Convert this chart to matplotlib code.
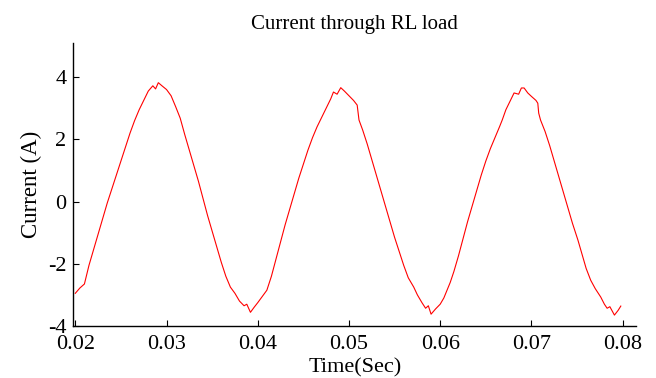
import matplotlib
matplotlib.use("Agg")
import matplotlib.pyplot as plt

# values (time in s, current in A)
time_s = [
    0.0200, 0.0205, 0.0210, 0.0215, 0.0220, 0.0225, 0.0230, 0.0235, 0.0240, 0.0245,
    0.0250, 0.0255, 0.0260, 0.0265, 0.0270, 0.0275, 0.0280, 0.0285, 0.0288, 0.0291,
    0.0295, 0.0300, 0.0305, 0.0310, 0.0315, 0.0320, 0.0325, 0.0330, 0.0335, 0.0340,
    0.0345, 0.0350, 0.0355, 0.0360, 0.0365, 0.0370, 0.0375, 0.0380, 0.0385, 0.0388,
    0.0392, 0.0396, 0.0400, 0.0405, 0.0410,
    0.0415, 0.0420, 0.0425, 0.0430, 0.0435, 0.0440, 0.0445, 0.0450, 0.0455, 0.0460,
    0.0465, 0.0470, 0.0475, 0.0480, 0.0483, 0.0487, 0.0491, 0.0495, 0.0500, 0.0505,
    0.0509, 0.0511, 0.0515, 0.0520, 0.0525, 0.0530, 0.0535, 0.0540, 0.0545, 0.0550,
    0.0555, 0.0560, 0.0565, 0.0571, 0.0575, 0.0580, 0.0584, 0.0587, 0.0590, 0.0595,
    0.0600, 0.0604, 0.0611,
    0.0615, 0.0620, 0.0625, 0.0630, 0.0635, 0.0640, 0.0645, 0.0650, 0.0655, 0.0660,
    0.0665, 0.0668, 0.0672, 0.0677, 0.0681, 0.0686, 0.0689, 0.0692, 0.0696, 0.0700,
    0.0705, 0.0707, 0.0708, 0.0710, 0.0715, 0.0720, 0.0725, 0.0730, 0.0735, 0.0740,
    0.0745, 0.0751, 0.0755, 0.0760, 0.0765, 0.0770, 0.0776, 0.0780, 0.0783, 0.0786,
    0.0791, 0.0795, 0.0798,
]
current_a = [
    -2.95, -2.78, -2.65, -2.05, -1.55, -1.05, -0.55, -0.05, 0.40, 0.85,
    1.30, 1.75, 2.20, 2.60, 2.95, 3.25, 3.55, 3.72, 3.62, 3.82,
    3.72, 3.60, 3.40, 3.05, 2.68, 2.15, 1.65, 1.15, 0.65, 0.10,
    -0.45, -0.95, -1.45, -1.95, -2.40, -2.75, -2.95, -3.20, -3.35, -3.30,
    -3.56, -3.40, -3.25, -3.05, -2.85,
    -2.40, -1.85, -1.30, -0.75, -0.25, 0.25, 0.75, 1.20, 1.65, 2.05,
    2.40, 2.70, 3.00, 3.30, 3.52, 3.45, 3.66, 3.55, 3.40, 3.25,
    3.10, 2.62, 2.30, 1.85, 1.35, 0.85, 0.35, -0.15, -0.65, -1.15,
    -1.60, -2.05, -2.45, -2.75, -3.00, -3.25, -3.43, -3.35, -3.62, -3.45,
    -3.30, -3.10, -2.60,
    -2.25, -1.75, -1.20, -0.65, -0.15, 0.35, 0.85, 1.30, 1.70, 2.05,
    2.40, 2.62, 2.95, 3.25, 3.49, 3.45, 3.65, 3.65, 3.49, 3.38,
    3.25, 3.16, 2.84, 2.62, 2.25, 1.80, 1.30, 0.80, 0.30, -0.20,
    -0.70, -1.24, -1.65, -2.15, -2.53, -2.80, -3.07, -3.30, -3.43, -3.38,
    -3.65, -3.50, -3.36,
]
x_ticks = [0.02, 0.03, 0.04, 0.05, 0.06, 0.07, 0.08]
y_ticks = [-4, -2, 0, 2, 4]

plt.rcParams['font.family'] = ['Liberation Serif', 'DejaVu Serif']

fig = plt.figure(figsize=(6.56, 3.78), dpi=100)
ax = fig.add_axes([0.112, 0.1376, 0.858, 0.749])

ax.plot(time_s, current_a, color='#ff0000', linewidth=0.8)

ax.set_xlim(0.0198, 0.0815)
ax.set_ylim(-4, 5.1)
ax.set_xticks(x_ticks)
ax.set_xticklabels(['%.2f' % v for v in x_ticks])
ax.set_yticks(y_ticks)
ax.set_yticklabels([str(v) for v in y_ticks])

for side in ['top', 'right']:
    ax.spines[side].set_visible(False)
for side in ['left', 'bottom']:
    ax.spines[side].set_linewidth(1.0)
ax.tick_params(direction='in', length=4, width=0.8, labelsize=16)
ax.tick_params(axis='x', pad=6.5)
ax.tick_params(axis='y', pad=5)

ax.set_title('Current through RL load', fontsize=15, pad=10)
ax.set_xlabel('Time(Sec)', fontsize=16, labelpad=3)
ax.set_ylabel('Current (A)', fontsize=16.5, labelpad=4)

fig.savefig('out.png', dpi=100)
